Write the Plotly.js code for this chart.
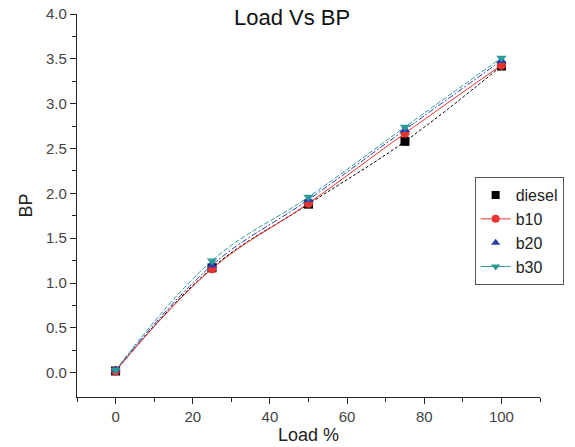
<!DOCTYPE html>
<html>
<head>
<meta charset="utf-8">
<script src="https://cdn.plot.ly/plotly-3.0.1.min.js"></script>
<style>html,body{margin:0;padding:0;background:#fff;}#chart{width:575px;height:447px;}</style>
</head>
<body>
<div id="chart"></div>
<script>
const load = [0, 25, 50, 75, 100];
const diesel = [0.02, 1.17, 1.88, 2.58, 3.42];
const b10 = [0.02, 1.16, 1.89, 2.67, 3.43];
const b20 = [0.03, 1.20, 1.93, 2.71, 3.48];
const b30 = [0.03, 1.25, 1.96, 2.74, 3.51];
const seriesNames = ['diesel', 'b10', 'b20', 'b30'];

const styles = [
  {color: '#000000', symbol: 'square', dash: '3px,2px', legendMode: 'markers'},
  {color: '#e8332e', symbol: 'circle', dash: 'solid', legendMode: 'lines+markers'},
  {color: '#2b3ea8', symbol: 'triangle-up', dash: '6px,2px,2px,2px', legendMode: 'markers'},
  {color: '#2a9a98', symbol: 'triangle-down', dash: '5px,2px', legendMode: 'lines+markers'}
];
const series = [diesel, b10, b20, b30];

const traces = [];
series.forEach((ys, i) => {
  const s = styles[i];
  traces.push({
    x: load, y: ys, type: 'scatter', mode: 'lines+markers',
    name: seriesNames[i], showlegend: false,
    line: {color: s.color, width: 1, dash: s.dash, shape: 'spline', smoothing: 1.1},
    marker: {color: s.color, symbol: s.symbol, size: 9}
  });
});
series.forEach((ys, i) => {
  const s = styles[i];
  traces.push({
    x: [null], y: [null], type: 'scatter', mode: s.legendMode,
    name: seriesNames[i], showlegend: true,
    line: {color: s.color, width: 1},
    marker: {color: s.color, symbol: s.symbol, size: 8}
  });
});

const layout = {
  width: 575, height: 447,
  margin: {l: 77, r: 34, t: 14, b: 50},
  paper_bgcolor: '#ffffff', plot_bgcolor: '#ffffff',
  font: {family: 'Liberation Sans, Arial, sans-serif', color: '#444444', size: 15},
  title: {text: 'Load Vs BP', font: {size: 22, color: '#111111'}, x: 0.508, xanchor: 'center', y: 0.962, yanchor: 'middle'},
  xaxis: {
    range: [-10, 110], tickvals: [0, 20, 40, 60, 80, 100],
    showgrid: false, zeroline: false, showline: true, linecolor: '#222', linewidth: 1.2,
    ticks: 'outside', ticklen: 6, tickcolor: '#222',
    minor: {tickvals: [-10, 10, 30, 50, 70, 90, 110], ticks: 'outside', ticklen: 4, tickcolor: '#222'},
    title: {text: 'Load %', font: {size: 18, color: '#222'}, standoff: 4}
  },
  yaxis: {
    range: [-0.27, 4.0], tickvals: [0, 0.5, 1, 1.5, 2, 2.5, 3, 3.5, 4],
    ticktext: ['0.0','0.5','1.0','1.5','2.0','2.5','3.0','3.5','4.0'],
    showgrid: false, zeroline: false, showline: true, linecolor: '#222', linewidth: 1.2,
    ticks: 'outside', ticklen: 6, tickcolor: '#222',
    minor: {tickvals: [0.25, 0.75, 1.25, 1.75, 2.25, 2.75, 3.25, 3.75], ticks: 'outside', ticklen: 4, tickcolor: '#222'},
    title: {text: 'BP', font: {size: 18, color: '#222'}, standoff: 8}
  },
  legend: {
    x: 0.857, y: 0.574, xanchor: 'left', yanchor: 'top',
    bgcolor: '#ffffff', bordercolor: '#555', borderwidth: 1,
    font: {size: 16, color: '#222'}, itemwidth: 30, tracegroupgap: 0
  }
};

Plotly.newPlot('chart', traces, layout, {displayModeBar: false, staticPlot: true});
</script>
</body>
</html>
